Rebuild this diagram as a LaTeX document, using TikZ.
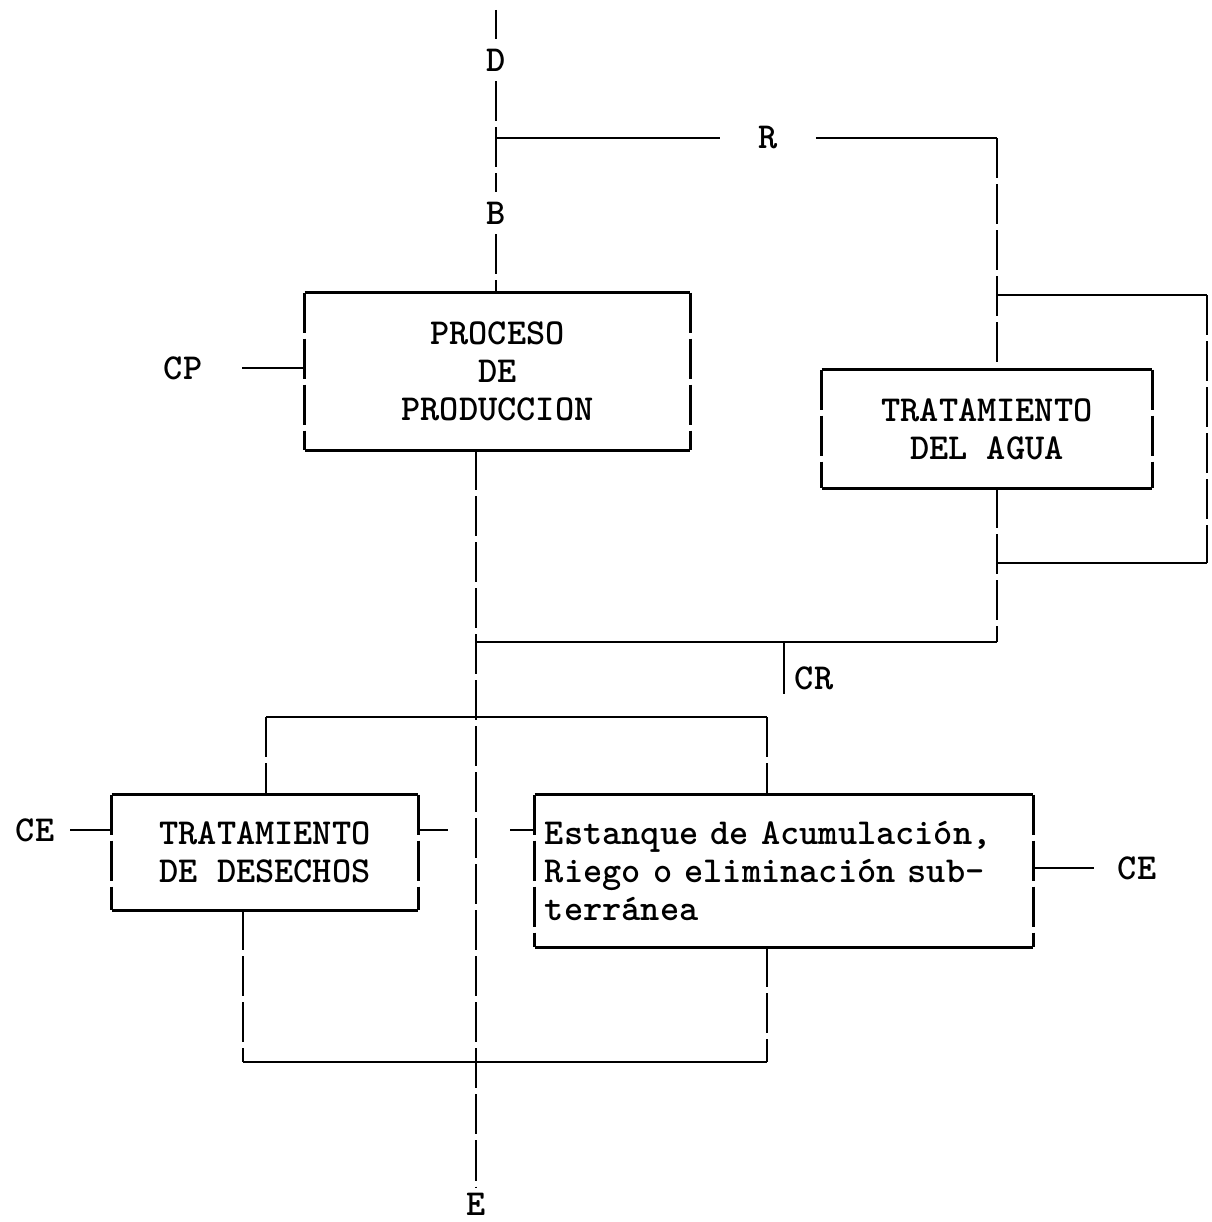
\documentclass[tikz,border=0pt]{standalone}
\usepackage{fontspec}
\usetikzlibrary{positioning}

\begin{document}
\begin{tikzpicture}[x=0.025cm,y=-0.025cm,
  hl/.style={line width=2pt},
  vl/.style={line width=2pt, dash pattern=on 1cm off 0.15cm},
  lbl/.style={font=\fontsize{26}{27}\selectfont\ttfamily\bfseries, inner sep=0.25cm},
  box/.style={font=\fontsize{26}{27}\selectfont\ttfamily\bfseries, inner xsep=0.25cm, inner ysep=0, align=center}]
\useasboundingbox (0,0) rectangle (1211,1222);
\node[box, minimum width=9.625cm, minimum height=3.925cm] (proc) at (497.5,371.5) {PROCESO\\DE\\PRODUCCION};
\node[box, minimum width=8.25cm, minimum height=2.95cm] (agua) at (987,429) {TRATAMIENTO\\DEL AGUA};
\node[box, minimum width=7.65cm, minimum height=2.875cm] (des) at (265,852.5) {TRATAMIENTO\\DE DESECHOS};
\node[box, text width=11.95cm, align=left, minimum height=3.8cm] (est) at (784,871) {Estanque de Acumulación,\\Riego o eliminación sub-\\terránea};
\foreach \b in {proc,agua,des,est} {
  \draw[hl] (\b.north west) -- (\b.north east);
  \draw[hl] (\b.south west) -- (\b.south east);
  \draw[vl] (\b.north west) -- (\b.south west);
  \draw[vl] (\b.north east) -- (\b.south east);
}
\node[lbl] (D) at (496,60) {D};
\node[lbl] (B) at (496,213) {B};
\node[lbl, inner xsep=0.95cm] (R) at (768,138) {R};
\node[lbl, inner xsep=1cm] (CP) at (183,368) {CP};
\node[lbl, inner xsep=0.4cm] (CEl) at (35,830) {CE};
\node[lbl, inner xsep=0.6cm] (CEr) at (1137,868) {CE};
\node[lbl, inner sep=0.1cm] (CR) at (814,678) {CR};
\node[lbl, inner sep=0.15cm] (E) at (476,1204) {E};
\coordinate (top) at (496,10);
\coordinate (jR) at (496,138);
\coordinate (rc) at (997,138);
\coordinate (bt) at (997,295);
\coordinate (bp) at (1207,295);
\coordinate (bb) at (997,563);
\coordinate (jC) at (476,642);
\coordinate (cr) at (784,642);
\coordinate (dl) at (266,717);
\coordinate (dr) at (767,717);
\coordinate (bl) at (243,1062);
\coordinate (br) at (767,1062);
\coordinate (s1) at (448,830);
\coordinate (s2) at (510,830);
\draw[vl] (top) -- (D);
\draw[vl] (D) -- (B);
\draw[vl] (B) -- (B |- proc.north);
\draw[hl] (jR) -- (R);
\draw[hl] (R) -- (rc);
\draw[vl] (rc) -- (rc |- agua.north);
\draw[hl] (bt) -- (bp);
\draw[vl] (bp) -- (bp |- bb);
\draw[hl] (bp |- bb) -- (bb);
\draw[vl] (rc |- agua.south) -- (rc |- jC);
\draw[hl] (jC) -- (rc |- jC);
\draw[vl] (proc.south -| E) -- (E);
\draw[hl] (cr) -- (cr |- CR.south);
\draw[hl] (CP) -- (proc.west |- CP);
\draw[hl] (dl) -- (dr);
\draw[vl] (dl) -- (dl |- des.north);
\draw[vl] (dr) -- (dr |- est.north);
\draw[hl] (CEl) -- (des.west |- CEl);
\draw[hl] (des.east |- CEl) -- (s1);
\draw[hl] (s2) -- (est.west |- s2);
\draw[hl] (est.east |- CEr) -- (CEr);
\draw[vl] (des.south -| bl) -- (bl);
\draw[vl] (est.south -| br) -- (br);
\draw[hl] (bl) -- (br);
\end{tikzpicture}
\end{document}
